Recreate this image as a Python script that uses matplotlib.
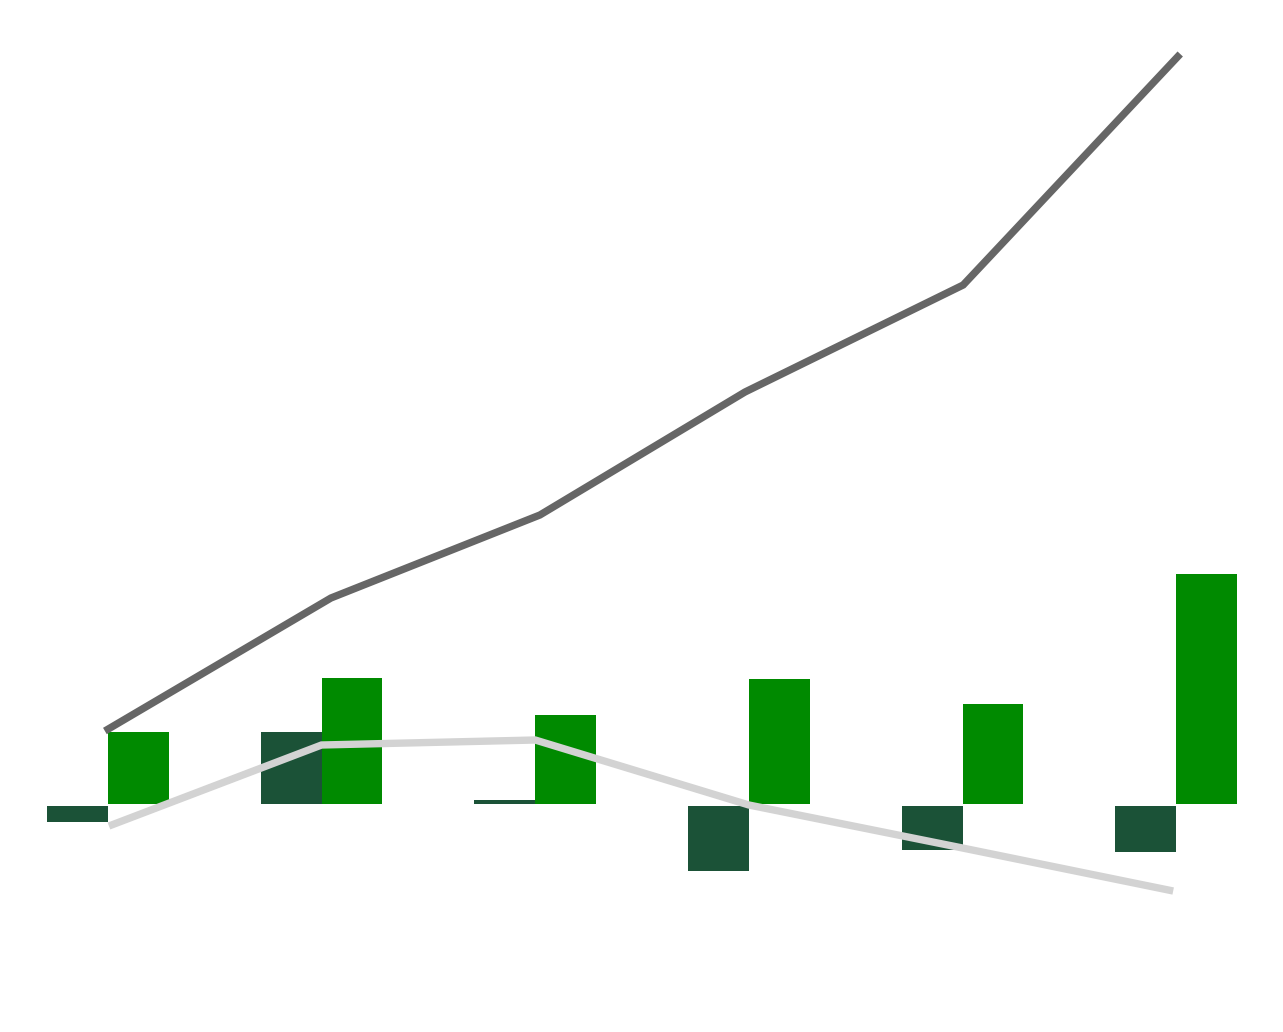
import matplotlib
matplotlib.use("Agg")
import matplotlib.pyplot as plt
import numpy as np

groups = [0, 1, 2, 3, 4, 5]
dark_bars = [-1.8, 7.2, 0.45, -6.7, -4.6, -4.8]
bright_bars = [7.2, 12.6, 8.9, 12.5, 10.0, 23.0]
dark_line_x = [-0.014, 1.044, 2.022, 2.982, 4.003, 5.019]
dark_line = [7.3, 20.6, 28.9, 41.2, 51.9, 75.0]
light_line_x = [0.005, 1.0, 2.0, 3.0, 4.0, 4.986]
light_line = [-2.2, 5.9, 6.4, -0.1, -4.4, -8.7]

fig = plt.figure(figsize=(12.83, 10.32), dpi=100)
ax = fig.add_axes([0, 0, 1, 1])
x = np.array(groups, dtype=float)
w = 0.285
gap = 0.2

dark = np.array(dark_bars)
bottoms = np.where(dark < 0, -gap, 0.0)
heights = np.where(dark < 0, dark + gap, dark)
ax.bar(x - w / 2, heights, width=w, bottom=bottoms, color="#1b5237",
       linewidth=0, zorder=2)
ax.bar(x + w / 2, bright_bars, width=w, color="#008a00",
       linewidth=0, zorder=2)

ax.plot(dark_line_x, dark_line, color="#666666", lw=5.3, solid_capstyle="butt",
        solid_joinstyle="miter", zorder=3)
ax.plot(light_line_x, light_line, color="#d3d3d3", lw=5.3, solid_capstyle="butt",
        solid_joinstyle="miter", zorder=3)

ax.set_xlim(-0.505, 5.5)
ax.set_ylim(-22.8, 80.4)
ax.axis("off")
fig.savefig("out.png", dpi=100, facecolor="white")
